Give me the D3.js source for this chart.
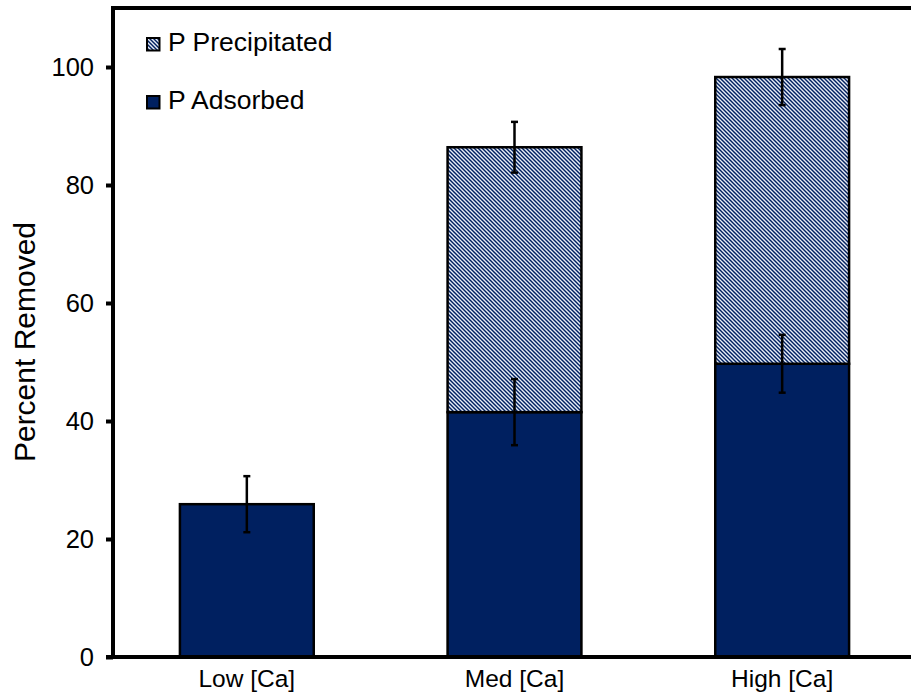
<!DOCTYPE html>
<html>
<head>
<meta charset="utf-8">
<script src="https://cdn.jsdelivr.net/npm/d3@7"></script>
<style>
  body { margin: 0; background: #fff; }
  text { font-family: "Liberation Sans", Arial, sans-serif; fill: #000; }
</style>
</head>
<body>
<div class="bar-graph"></div>
<script>
// chart data
var categories = ["Low [Ca]", "Med [Ca]", "High [Ca]"];
var adsorbed = [25.9, 41.5, 49.7];
var adsorbedErr = [4.75, 5.6, 4.9];
var precipitated = [0, 44.9, 48.6];
var precipitatedErr = [0, 4.3, 4.75];
var yTicks = [0, 20, 40, 60, 80, 100];
var seriesNames = ["P Precipitated", "P Adsorbed"];

var navy = "#002060";

// dimensions
var width = 911, height = 700;
var margin = {top: 8, left: 113, bottom: 43, right: -5};

var svg = d3.select("div.bar-graph").append("svg")
    .attr("width", width)
    .attr("height", height);

// hatch for the precipitated part
var defs = svg.append("defs");
var pat = defs.append("pattern")
    .attr("id", "hatch")
    .attr("patternUnits", "userSpaceOnUse")
    .attr("width", 4)
    .attr("height", 4);
pat.append("rect").attr("width", 4).attr("height", 4).attr("fill", navy);
pat.append("path")
    .attr("d", "M0,0L4,4M-1,3L1,5M3,-1L5,1")
    .attr("stroke", "#e8edf6")
    .attr("stroke-width", 1.4);

// scales
var x = d3.scaleBand()
    .domain(categories)
    .range([margin.left, width - margin.right])
    .paddingInner(0.5)
    .paddingOuter(0.25);

var y = d3.scaleLinear()
    .domain([0, 110])
    .range([height - margin.bottom, margin.top]);

var data = categories.map(function (c, i) {
    return {
        cat: c,
        ads: adsorbed[i],
        adsErr: adsorbedErr[i],
        pre: precipitated[i],
        preErr: precipitatedErr[i]
    };
});

// frame (top line, right side runs off the page)
svg.append("rect")
    .attr("x", margin.left)
    .attr("y", y(110))
    .attr("width", width - margin.right - margin.left)
    .attr("height", y(0) - y(110))
    .attr("fill", "none")
    .attr("stroke", "#000")
    .attr("stroke-width", 4);

// adsorbed bars
svg.selectAll(".ads")
    .data(data)
    .enter().append("rect")
    .attr("class", "ads")
    .attr("x", function (d) { return x(d.cat); })
    .attr("y", function (d) { return y(d.ads); })
    .attr("width", x.bandwidth())
    .attr("height", function (d) { return y(0) - y(d.ads); })
    .attr("fill", navy)
    .attr("stroke", "#000")
    .attr("stroke-width", 2.5);

// precipitated bars stacked on top
svg.selectAll(".pre")
    .data(data.filter(function (d) { return d.pre > 0; }))
    .enter().append("rect")
    .attr("class", "pre")
    .attr("x", function (d) { return x(d.cat); })
    .attr("y", function (d) { return y(d.ads + d.pre); })
    .attr("width", x.bandwidth())
    .attr("height", function (d) { return y(d.ads) - y(d.ads + d.pre); })
    .attr("fill", "url(#hatch)")
    .attr("stroke", "#000")
    .attr("stroke-width", 2.5);

// error bars
var errs = [];
data.forEach(function (d) {
    errs.push({cat: d.cat, v: d.ads, e: d.adsErr});
    if (d.pre > 0) errs.push({cat: d.cat, v: d.ads + d.pre, e: d.preErr});
});
var eg = svg.selectAll(".err")
    .data(errs)
    .enter().append("g")
    .attr("class", "err")
    .attr("stroke", "#000")
    .attr("stroke-width", 2.5);
eg.append("line")
    .attr("x1", function (d) { return x(d.cat) + x.bandwidth() / 2; })
    .attr("x2", function (d) { return x(d.cat) + x.bandwidth() / 2; })
    .attr("y1", function (d) { return y(d.v - d.e); })
    .attr("y2", function (d) { return y(d.v + d.e); });
[-1, 1].forEach(function (s) {
    eg.append("line")
        .attr("x1", function (d) { return x(d.cat) + x.bandwidth() / 2 - 3.5; })
        .attr("x2", function (d) { return x(d.cat) + x.bandwidth() / 2 + 3.5; })
        .attr("y1", function (d) { return y(d.v + s * d.e); })
        .attr("y2", function (d) { return y(d.v + s * d.e); });
});

// y axis
var yAxis = svg.append("g")
    .attr("transform", "translate(" + margin.left + ",0)")
    .call(d3.axisLeft(y).tickValues(yTicks).tickSize(7).tickPadding(12));
yAxis.select(".domain").attr("stroke-width", 4).attr("d",
    "M0," + y(0) + "V" + y(110));
yAxis.selectAll(".tick line").attr("stroke-width", 4);
yAxis.selectAll(".tick text")
    .style("font-size", "25.5px")
    .style("font-family", "'Liberation Sans', Arial, sans-serif");

// x axis
var xAxis = svg.append("g")
    .attr("transform", "translate(0," + y(0) + ")")
    .call(d3.axisBottom(x).tickSize(0).tickPadding(13));
xAxis.select(".domain").attr("stroke-width", 4)
    .attr("d", "M" + (margin.left - 7) + ",0H" + (width + 10));
xAxis.selectAll(".tick text")
    .style("font-size", "24.5px")
    .style("font-family", "'Liberation Sans', Arial, sans-serif");

// y label
svg.append("text")
    .attr("transform", "translate(35,342) rotate(-90)")
    .attr("text-anchor", "middle")
    .style("font-size", "30px")
    .text("Percent Removed");

// legend
var legend = svg.selectAll(".legend")
    .data(seriesNames)
    .enter().append("g")
    .attr("class", "legend")
    .attr("transform", function (d, i) { return "translate(147," + (38 + i * 58) + ")"; });
legend.append("rect")
    .attr("width", 12.5)
    .attr("height", 12.5)
    .attr("fill", function (d, i) { return i === 0 ? "url(#hatch)" : navy; })
    .attr("stroke", "#000")
    .attr("stroke-width", 2);
legend.append("text")
    .attr("x", 21)
    .attr("y", 13)
    .style("font-size", "26.5px")
    .text(function (d) { return d; });
</script>
</body>
</html>
